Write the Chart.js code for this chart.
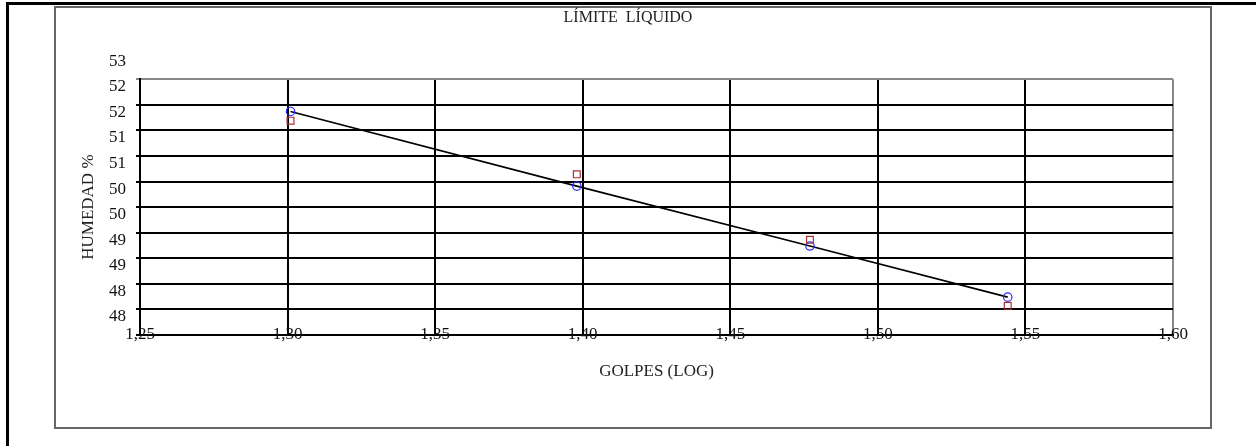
<!doctype html>
<html lang="es">
<head>
<meta charset="utf-8">
<title>Límite líquido</title>
<script src="https://cdn.jsdelivr.net/npm/chart.js"></script>
<style>
  html, body { margin: 0; padding: 0; background: #fff; }
  #wrap { position: relative; width: 1256px; height: 446px; }
</style>
</head>
<body>
<div id="wrap"><canvas id="chart" width="1256" height="446"></canvas></div>
<script>
// golpes (log10 de 20, 25, 30, 35)
const golpesLog = [1.301, 1.398, 1.477, 1.544]
// humedad medida (cuadros rojos)
const humedad = [51.94, 50.89, 49.61, 48.32]
// recta ajustada (circulos azules)
const humedadAjuste = [52.12, 50.66, 49.49, 48.49]

const xTickLabels = ['1,25', '1,30', '1,35', '1,40', '1,45', '1,50', '1,55', '1,60']
const yTickLabels = ['48', '48', '49', '49', '50', '50', '51', '51', '52', '52', '53']

const serif = '"Liberation Serif", "Times New Roman", serif'

// marcos del documento
const frames = {
  id: 'frames',
  beforeDraw(chart) {
    const c = chart.ctx
    c.save()
    c.fillStyle = '#fff'
    c.fillRect(0, 0, chart.width, chart.height)
    c.strokeStyle = '#000'
    c.lineWidth = 3
    c.beginPath()
    c.moveTo(7.5, 446)
    c.lineTo(7.5, 3.5)
    c.lineTo(1256, 3.5)
    c.stroke()
    c.strokeStyle = '#666'
    c.lineWidth = 2
    c.strokeRect(55, 7, 1156, 421)
    c.restore()
  }
}

new Chart(document.getElementById('chart'), {
  type: 'scatter',
  data: {
    datasets: [
      {
        label: 'Humedad',
        data: golpesLog.map((x, i) => ({ x, y: humedad[i] })),
        pointStyle: 'rect',
        pointRadius: 4.8,
        pointBorderColor: '#b03030',
        pointBackgroundColor: 'rgba(0,0,0,0)',
        pointBorderWidth: 1.2,
        showLine: false
      },
      {
        label: 'Ajuste',
        data: golpesLog.map((x, i) => ({ x, y: humedadAjuste[i] })),
        showLine: true,
        borderColor: '#000',
        borderWidth: 1.6,
        pointStyle: 'circle',
        pointRadius: 4.2,
        pointBorderColor: '#2b2bff',
        pointBackgroundColor: 'rgba(0,0,0,0)',
        pointBorderWidth: 1.2
      }
    ]
  },
  options: {
    responsive: false,
    animation: false,
    layout: { padding: 0 },
    plugins: {
      legend: { display: false },
      tooltip: { enabled: false },
      title: {
        display: true,
        text: 'LÍMITE  LÍQUIDO',
        color: '#222',
        font: { family: serif, size: 16, weight: 'normal' },
        padding: { top: 8, bottom: 52 }
      }
    },
    scales: {
      x: {
        type: 'linear',
        min: 1.25,
        max: 1.60,
        afterFit(s) { s.height = 111 },
        ticks: {
          stepSize: 0.05,
          mirror: true,
          padding: -10,
          color: '#111',
          font: { family: serif, size: 17 },
          callback: (v, i) => xTickLabels[i]
        },
        grid: {
          color: (ctx) => ctx.index === xTickLabels.length - 1 ? '#888' : '#000',
          lineWidth: 2,
          drawTicks: false
        },
        border: { color: '#000', width: 2 },
        title: {
          display: true,
          text: 'GOLPES (LOG)',
          color: '#222',
          font: { family: serif, size: 17 },
          padding: { bottom: 64 }
        }
      },
      y: {
        min: 47.75,
        max: 52.75,
        afterFit(s) { s.width = 140 },
        ticks: {
          stepSize: 0.5,
          padding: 10,
          labelOffset: -18,
          color: '#111',
          font: { family: serif, size: 17 },
          callback: (v, i) => yTickLabels[i]
        },
        grid: {
          color: (ctx) => ctx.index === yTickLabels.length - 1 ? '#888' : '#000',
          lineWidth: 2,
          tickLength: 4
        },
        border: { color: '#000', width: 2 },
        title: {
          display: true,
          text: 'HUMEDAD %',
          color: '#222',
          font: { family: serif, size: 17 },
          padding: { top: 78 }
        }
      },
      // espacio vacio a la derecha del grafico
      margen: {
        type: 'linear',
        position: 'right',
        display: true,
        afterFit(s) { s.width = 83 },
        ticks: { display: false },
        grid: { display: false },
        border: { display: false }
      }
    }
  },
  plugins: [frames]
})
</script>
</body>
</html>
